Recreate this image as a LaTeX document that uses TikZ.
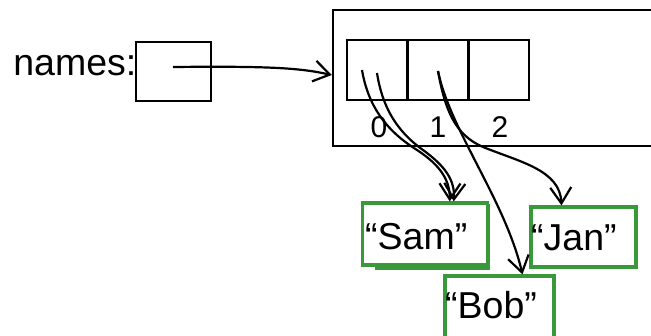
\documentclass[tikz,border=0pt]{standalone}
\usepackage{fontspec}
\setmainfont{Liberation Sans}
\usetikzlibrary{arrows.meta,calc}
\definecolor{boxgreen}{RGB}{57,152,57}
\begin{document}
\begin{tikzpicture}[x=1pt,y=-1pt,
  line width=2.4pt,
  plainbox/.style={draw, rectangle, inner sep=0},
  cell/.style={plainbox, minimum width=61pt, minimum height=60pt},
  strbox/.style={draw=boxgreen, line width=3.2pt, fill=white, rectangle, inner sep=0},
  bigtxt/.style={inner sep=0, font=\fontsize{37.5}{40}\selectfont},
  idx/.style={inner sep=0, font=\fontsize{30}{32}\selectfont},
  ptr/.style={draw, line width=2.2pt, -{Straight Barb[length=16pt,width=21pt]}},
]
\clip (0,0) rectangle (651,335);

% outer object box (extends beyond right edge)
\node[plainbox, minimum width=327pt, minimum height=136pt] (outer) at (496.5,78) {};

% array cells
\node[cell] (c0) at (377.5,70) {};
\node[cell] (c1) at (438,70) {};
\node[cell] (c2) at (498.5,70) {};
\node[idx, anchor=base] (i0) at (379,137) {0};
\node[idx, anchor=base] (i1) at (438,137) {1};
\node[idx, anchor=base] (i2) at (500,137) {2};

% names variable
\node[plainbox, minimum width=75pt, minimum height=59pt] (nbox) at (173.5,71.5) {};
\node[bigtxt, anchor=base east] (nlab) at (137.5,75) {names:};

% string objects
\node[strbox, minimum width=111pt, minimum height=62pt] (samb) at (432.5,237) {};
\node[strbox, minimum width=125pt, minimum height=62pt] (samf) at (424.75,234) {};
\node[bigtxt, anchor=base west] (samt) at (364,249) {“Sam”};

\node[strbox, minimum width=105pt, minimum height=60pt] (jan) at (583.5,237) {};
\node[bigtxt, anchor=base west] (jant) at (530,250) {“Jan”};

\node[strbox, minimum width=109pt, minimum height=69pt] (bob) at (499.5,310.5) {};
\node[bigtxt, anchor=base west] (bobt) at (444,318) {“Bob”};

% pointer start points
\coordinate (snames) at (173,67);
\coordinate (s0a) at (362,70);
\coordinate (s0b) at (377,73);
\coordinate (s1) at (438,71);

% connectors
\draw[ptr] (snames) .. controls (270,66) and (300,68) .. ($(outer.west)+(0,-3)$);
\draw[ptr] (s0a) .. controls (368,105) and (385,130) .. (417,150)
  .. controls (440,165) and (450,180) .. ($(samf.north)+(25,0)$);
\draw[ptr] (s0b) .. controls (382,105) and (395,130) .. (423,150)
  .. controls (445,166) and (455,180) .. ($(samf.north)+(29,0)$);
\draw[ptr] (s1) .. controls (450,130) and (505,200) .. ($(bob.north)+(23,0)$);
\draw[ptr] (s1) .. controls (445,110) and (455,135) .. (483,147)
  .. controls (520,162) and (560,170) .. ($(jan.north)+(-22,0)$);
\end{tikzpicture}
\end{document}
